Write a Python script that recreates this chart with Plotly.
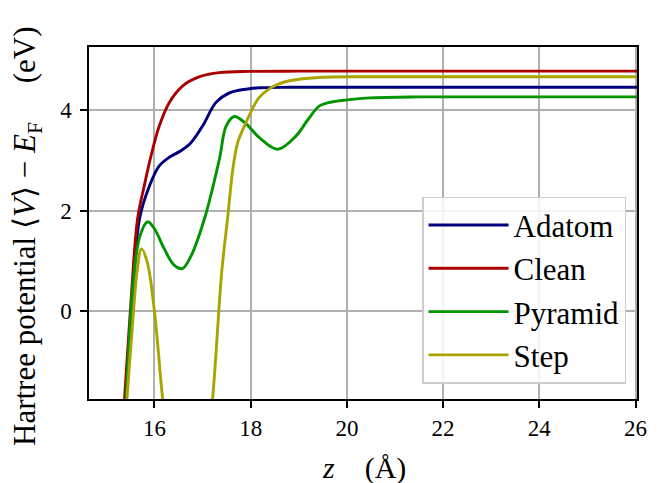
import plotly.graph_objects as go

# ---- data ----
adatom_z = [15.30, 15.40, 15.55, 15.69, 15.90, 16.10, 16.31, 16.55, 16.76, 17.00, 17.28, 17.56, 17.97, 18.18, 18.8, 20.0, 23.0, 26.1]
adatom_v = [-3.0, -1.72, 0.30, 1.84, 2.50, 2.89, 3.06, 3.19, 3.35, 3.68, 4.15, 4.34, 4.42, 4.44, 4.45, 4.45, 4.45, 4.45]

clean_z = [15.28, 15.38, 15.52, 15.65, 15.79, 15.93, 16.10, 16.31, 16.59, 16.94, 17.35, 17.98, 19.0, 22.0, 26.1]
clean_v = [-3.0, -1.72, 0.30, 1.84, 2.50, 3.09, 3.68, 4.15, 4.48, 4.66, 4.74, 4.765, 4.77, 4.77, 4.77]

pyramid_z = [15.32, 15.41, 15.55, 15.70, 15.86, 16.00, 16.20, 16.40, 16.58, 16.75, 17.04, 17.35, 17.49, 17.66, 17.91, 18.18, 18.56, 18.94, 19.20, 19.43, 19.64, 20.0, 20.47, 21.5, 26.1]
pyramid_v = [-3.0, -1.72, 0.50, 1.50, 1.78, 1.64, 1.25, 0.93, 0.85, 1.08, 1.84, 3.02, 3.68, 3.87, 3.72, 3.45, 3.22, 3.48, 3.82, 4.08, 4.15, 4.20, 4.24, 4.26, 4.26]

step_z = [15.34, 15.43, 15.55, 15.64, 15.73, 15.85, 16.00, 16.17, 16.40, 16.70, 17.00, 17.21, 17.40, 17.52, 17.63, 17.73, 17.87, 18.18, 18.50, 18.81, 19.50, 20.5, 26.1]
step_v = [-3.0, -1.72, -0.20, 0.80, 1.24, 0.98, 0.00, -1.73, -3.60, -4.50, -3.60, -1.72, 0.80, 1.84, 2.83, 3.35, 3.68, 4.25, 4.48, 4.58, 4.65, 4.66, 4.66]

series = [
    ("Adatom", adatom_z, adatom_v, "#00007f"),
    ("Clean", clean_z, clean_v, "#a80000"),
    ("Pyramid", pyramid_z, pyramid_v, "#009400"),
    ("Step", step_z, step_v, "#a8a500"),
]

x_ticks = [16, 18, 20, 22, 24, 26]
y_ticks = [0, 2, 4]

FONT = "Liberation Serif, DejaVu Serif, serif"
NB = "\u00a0"
x_title = "<i>z</i>" + NB * 4 + "(Å)"
y_title = "Hartree potential ⟨<i>V</i>⟩ − <i>E</i><sub>F</sub>" + NB * 5 + "(eV)"

fig = go.Figure()
for i, (name, z, v, col) in enumerate(series):
    fig.add_trace(go.Scatter(
        x=z, y=v, mode="lines", name=name,
        line=dict(color=col, width=2.9, shape="spline", smoothing=1.0),
        legendgroup=f"g{i}",
    ))

axis_common = dict(
    showline=True, linecolor="black", linewidth=1.5, mirror=True,
    ticks="outside", ticklen=7, tickwidth=1.5, tickcolor="black",
    showgrid=True, gridcolor="#b0b0b0", gridwidth=1.5,
    zeroline=False, automargin=False,
    tickfont=dict(family=FONT, size=23, color="black"),
)

# the page body has an 8px margin, so the figure is 8px smaller than the window
fig.update_layout(
    width=656, height=475,
    margin=dict(l=81, r=27, t=39, b=84),
    paper_bgcolor="white", plot_bgcolor="white",
    font=dict(family=FONT, size=23, color="black"),
    xaxis=dict(range=[14.64, 26.03], tickvals=x_ticks, ticklabelstandoff=1, **axis_common),
    yaxis=dict(range=[-1.74, 5.25], tickvals=y_ticks, ticklabelstandoff=4, **axis_common),
    legend=dict(
        x=0.98, y=0.043, xanchor="right", yanchor="bottom",
        bgcolor="rgba(255,255,255,0.85)", bordercolor="#cccccc", borderwidth=1.5,
        font=dict(family=FONT, size=31, color="black"),
        tracegroupgap=0, itemwidth=80,
    ),
    showlegend=True,
    annotations=[
        dict(text=y_title, textangle=-90, showarrow=False,
             xref="paper", yref="paper", x=-0.112, y=0.462,
             xanchor="center", yanchor="middle",
             font=dict(family=FONT, size=31, color="black")),
        dict(text=x_title, showarrow=False,
             xref="paper", yref="paper", x=0.502, y=-0.195,
             xanchor="center", yanchor="middle",
             font=dict(family=FONT, size=30, color="black")),
    ],
)

fig.write_html("out.html")
